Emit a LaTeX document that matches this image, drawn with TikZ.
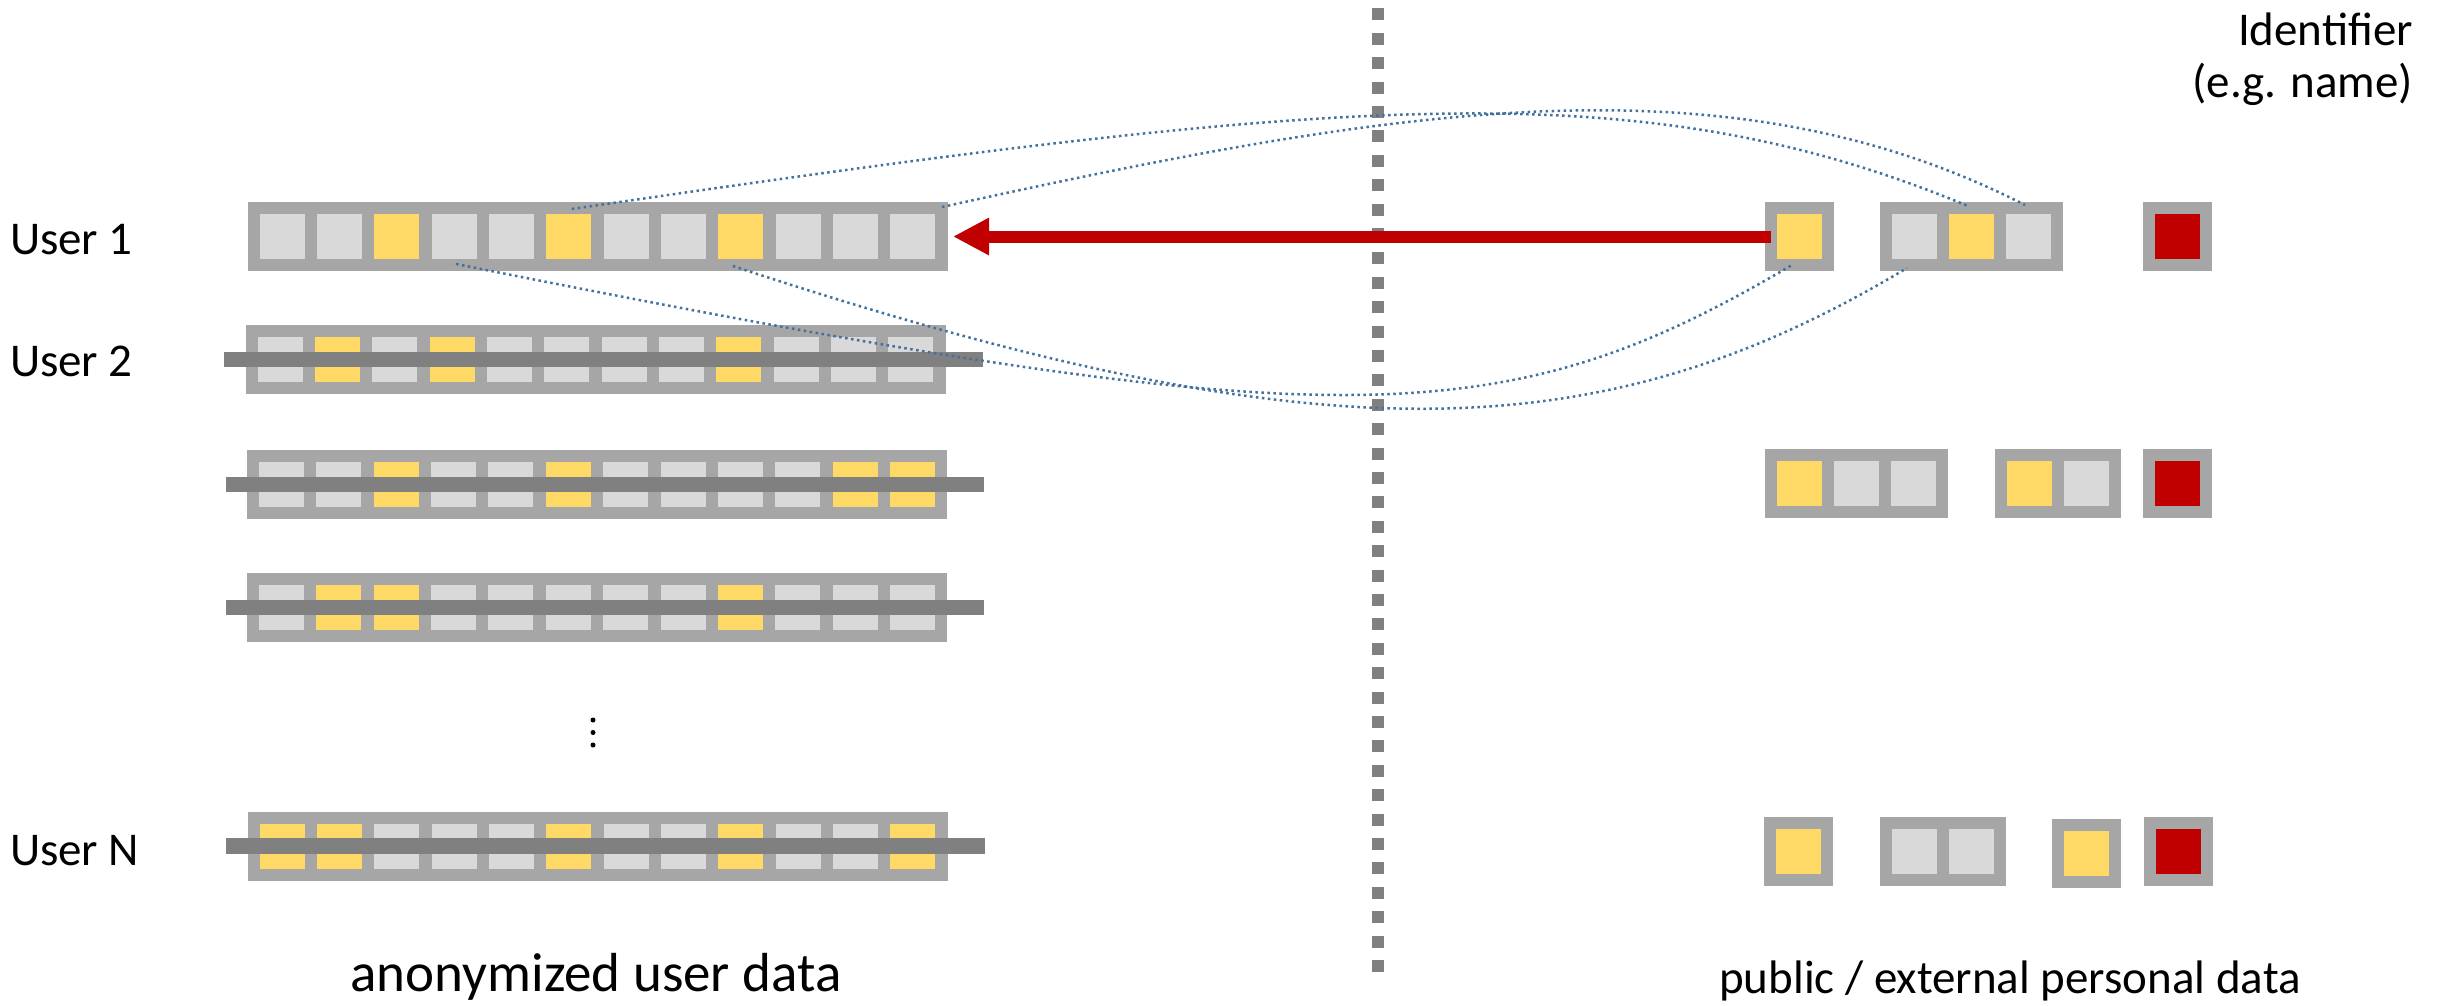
\documentclass[tikz,border=0pt]{standalone}
\usepackage{fontspec}
\setmainfont{Carlito}
\usetikzlibrary{arrows.meta,calc}
\definecolor{boxgray}{RGB}{166,166,166}
\definecolor{cellL}{RGB}{217,217,217}
\definecolor{cellY}{RGB}{255,217,102}
\definecolor{cellR}{RGB}{192,0,0}
\definecolor{bargray}{RGB}{128,128,128}
\definecolor{linkblue}{RGB}{65,113,156}
\tikzset{
  rowbox/.style={fill=boxgray, draw=none, minimum width=700pt, minimum height=69pt, inner sep=0pt, outer sep=0pt},
  cell/.style={draw=none, minimum width=45pt, minimum height=45pt, inner sep=0pt, outer sep=0pt},
  idcell/.style={draw=boxgray, line width=12pt, minimum size=57pt, inner sep=0pt, outer sep=0pt},
  crossbar/.style={fill=bargray, draw=none, minimum width=758.5pt, minimum height=15.5pt, inner sep=0pt, outer sep=0pt},
  septline/.style={draw=bargray, line width=12pt, dash pattern=on 12pt off 12.4pt},
  linkline/.style={draw=linkblue, line width=2.5pt, dash pattern=on 2.5pt off 3.5pt},
  redarrow/.style={draw=cellR, line width=12pt, -{Triangle[length=36pt,width=35pt]}, shorten >=5.5pt},
  lbl/.style={font=\fontsize{47}{56}\selectfont, inner sep=0pt, outer sep=0pt},
  biglbl/.style={font=\fontsize{55}{66}\selectfont, inner sep=0pt, outer sep=0pt},
  vdot/.style={circle, fill=black, draw=none, minimum size=5pt, inner sep=0pt}
}
\newcommand{\userrow}[4]{%
  \node[rowbox] (#1) at ({#2+350},#3) {};
  \foreach \c [count=\i] in {#4} {
    \node[cell, fill=cell\c] (#1c\i) at ({#2+34.5+(\i-1)*57.36},#3) {};
  }
}
\newcommand{\barover}[3]{%
  \node[crossbar] (#1) at ({#2+357.75},#3) {};
}
\begin{document}
\begin{tikzpicture}[x=1pt,y=-1pt]
\useasboundingbox (0,0) rectangle (2448,1005);
% separator
\coordinate (septop) at (1378,8.3);
\coordinate (sepbot) at (1378,972);
\draw[septline] (septop) -- (sepbot);
% anonymized rows
\userrow{r1}{247.5}{236.5}{L,L,Y,L,L,Y,L,L,Y,L,L,L}
\userrow{r2}{245.5}{359.5}{L,Y,L,Y,L,L,L,L,Y,L,L,L}
\userrow{r3}{247}{484.5}{L,L,Y,L,L,Y,L,L,L,L,Y,Y}
\userrow{r4}{247}{607.5}{L,Y,Y,L,L,L,L,L,Y,L,L,L}
\userrow{rn}{247.5}{846}{Y,Y,L,L,L,Y,L,L,Y,L,L,Y}
\barover{r2bar}{245.5}{359.5}
\barover{r3bar}{247}{484.5}
\barover{r4bar}{247}{607.5}
\barover{rnbar}{247.5}{846}
% external data, row 1
\node[idcell, fill=cellY] (a1) at (1799.5,236.5) {};
\node[idcell, fill=cellL] (b1) at (1914.5,236.5) {};
\node[idcell, fill=cellY] (b2) at (1971.5,236.5) {};
\node[idcell, fill=cellL] (b3) at (2028.5,236.5) {};
\node[idcell, fill=cellR] (c1) at (2177.5,236.5) {};
% external data, row 3
\node[idcell, fill=cellY] (d1) at (1799.5,483.5) {};
\node[idcell, fill=cellL] (d2) at (1856.5,483.5) {};
\node[idcell, fill=cellL] (d3) at (1913.5,483.5) {};
\node[idcell, fill=cellY] (e1) at (2029.5,483.5) {};
\node[idcell, fill=cellL] (e2) at (2086.5,483.5) {};
\node[idcell, fill=cellR] (f1) at (2177.5,483.5) {};
% external data, row N
\node[idcell, fill=cellY] (g1) at (1798.5,851.5) {};
\node[idcell, fill=cellL] (h1) at (1914.5,851.5) {};
\node[idcell, fill=cellL] (h2) at (1971.5,851.5) {};
\node[idcell, fill=cellY] (i1) at (2086.5,853.5) {};
\node[idcell, fill=cellR] (j1) at (2178.5,851.5) {};
% arrow
\draw[redarrow] (a1.west) -- (r1.east);
% dotted links
\draw[linkline] ($(r1c6.north)+(3,-5)$) .. controls (1350,95) and (1640,70) .. ($(b2.north)+(-3.5,-2)$);
\draw[linkline] ($(r1.north east)+(-5.5,5)$) .. controls (1392,108) and (1725,52) .. ($(b3.north)+(-3.5,-3)$);
\draw[linkline] ($(r1c4.south)+(2,5)$) .. controls (1336,440) and (1500,437) .. ($(a1.south)+(-7.5,0)$);
\draw[linkline] ($(r1c9.south)+(-8,7)$) .. controls (1321,460) and (1600,452) .. ($(b1.south)+(-7.5,3)$);
% labels
\node[lbl, anchor=base west] (u1) at (10,254) {User 1};
\node[lbl, anchor=base west] (u2) at (10,376.7) {User 2};
\node[lbl, anchor=base west] (un) at (10,865) {User N};
\node[lbl, anchor=base east] (id1) at (2413,45) {Identifier};
\node[lbl, anchor=base east] (id2) at (2413,97) {(e.g. name)};
\node[biglbl, anchor=base] (anon) at (596,991) {anonymized user data};
\node[lbl, anchor=base] (pub) at (2010,993) {public / external personal data};
% vertical dots
\node[vdot] (vd1) at (593,720) {};
\node[vdot] (vd2) at (593,732.5) {};
\node[vdot] (vd3) at (593,745) {};
\end{tikzpicture}
\end{document}
